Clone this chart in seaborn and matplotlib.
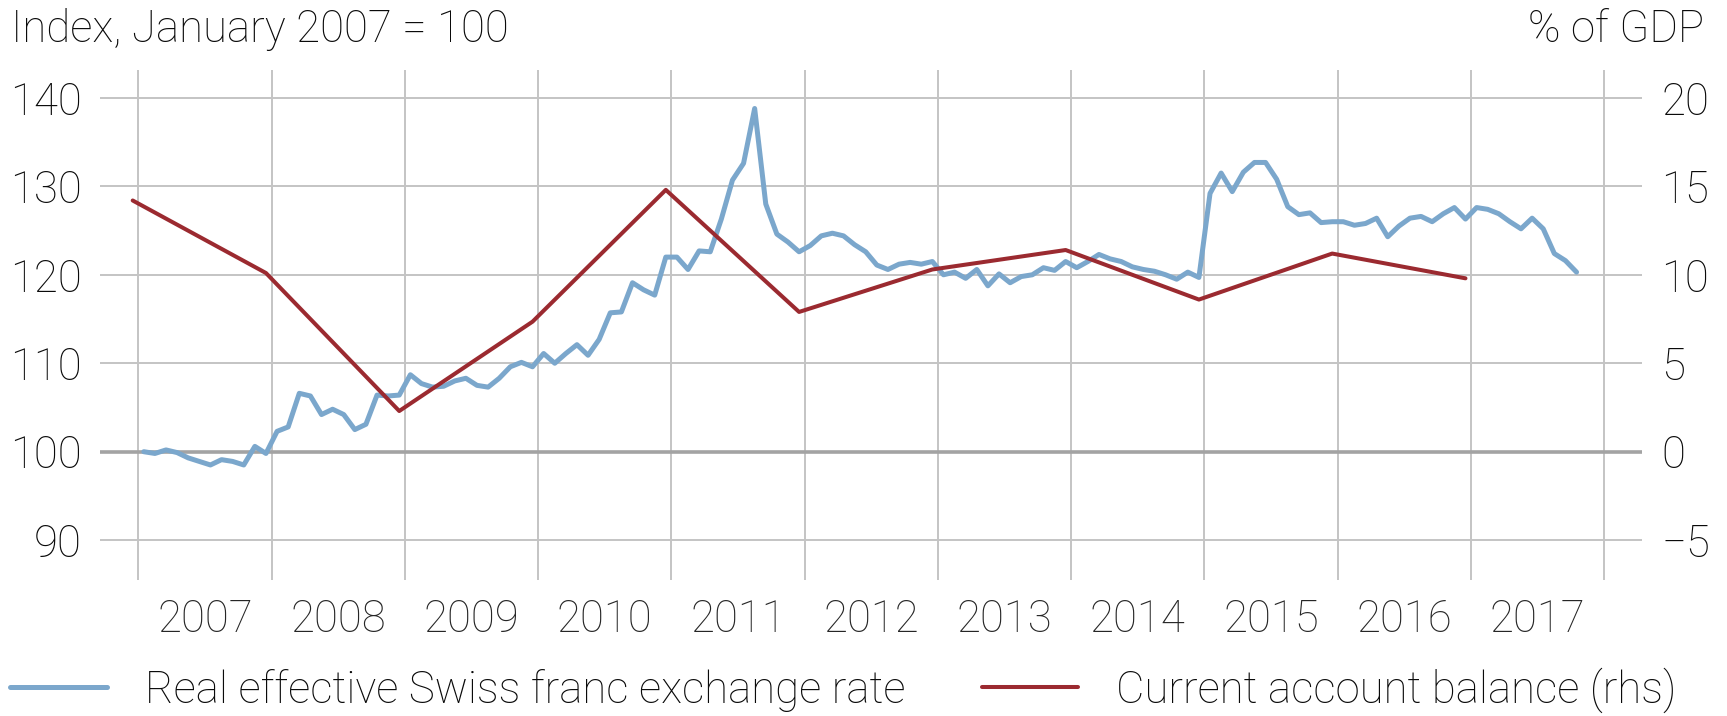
import numpy as np
import pandas as pd
import seaborn as sns
import matplotlib.pyplot as plt
from matplotlib.ticker import FixedLocator, NullFormatter

# real effective franc index, monthly, Jan 2007 = 100
reer_2007 = [100.0, 99.8, 100.2, 99.9, 99.3, 98.9, 98.5, 99.1, 98.9, 98.5, 100.6, 99.8]
reer_2008 = [102.3, 102.8, 106.6, 106.3, 104.2, 104.8, 104.2, 102.5, 103.1, 106.4, 106.3, 106.4]
reer_2009 = [108.7, 107.7, 107.3, 107.4, 108.0, 108.3, 107.5, 107.3, 108.3, 109.6, 110.1, 109.6]
reer_2010 = [111.1, 110.0, 111.1, 112.1, 110.9, 112.7, 115.7, 115.8, 119.1, 118.3, 117.7, 122.0]
reer_2011 = [122.0, 120.6, 122.7, 122.6, 126.3, 130.7, 132.6, 138.8, 128.0, 124.6, 123.7, 122.6]
reer_2012 = [123.3, 124.4, 124.7, 124.4, 123.4, 122.6, 121.1, 120.6, 121.2, 121.4, 121.2, 121.5]
reer_2013 = [120.0, 120.3, 119.6, 120.6, 118.75, 120.1, 119.1, 119.8, 120.0, 120.8, 120.5, 121.5]
reer_2014 = [120.8, 121.5, 122.3, 121.8, 121.5, 120.9, 120.6, 120.4, 120.0, 119.5, 120.3, 119.7]
reer_2015 = [129.2, 131.5, 129.4, 131.6, 132.7, 132.7, 130.8, 127.7, 126.8, 127.0, 125.9, 126.0]
reer_2016 = [126.0, 125.6, 125.8, 126.4, 124.3, 125.5, 126.4, 126.6, 126.0, 126.9, 127.6, 126.3]
reer_2017 = [127.6, 127.4, 126.9, 126.0, 125.2, 126.4, 125.2, 122.4, 121.6, 120.3]

# current account balance, % of GDP, year-end
ca_years = [2006, 2007, 2008, 2009, 2010, 2011, 2012, 2013, 2014, 2015, 2016]
ca_values = [14.2, 10.1, 2.3, 7.35, 14.8, 7.9, 10.3, 11.4, 8.6, 11.2, 9.8]

year_labels = ['2007', '2008', '2009', '2010', '2011', '2012',
               '2013', '2014', '2015', '2016', '2017']

blue = '#7ba7cc'
red = '#9b2a30'
ink = '#0a0a0a'

reer = (reer_2007 + reer_2008 + reer_2009 + reer_2010 + reer_2011 + reer_2012
        + reer_2013 + reer_2014 + reer_2015 + reer_2016 + reer_2017)
df_reer = pd.DataFrame({'t': 2007 + (np.arange(len(reer)) + 0.5) / 12,
                        'v': reer})
df_ca = pd.DataFrame({'t': np.array(ca_years) + 11.5 / 12, 'v': ca_values})

sns.set_style('white')
plt.rcParams['font.family'] = ['Roboto', 'DejaVu Sans']
plt.rcParams['font.weight'] = 'light'
plt.rcParams['text.color'] = ink
fs = 31.5

fig = plt.figure(figsize=(17.27, 7.16), dpi=100)
ax = fig.add_axes([0.0579, 0.1900, 0.8929, 0.7116])
ax2 = ax.twinx()

ylo, yhi = 85.5, 143.1
ax.set_ylim(ylo, yhi)
ax2.set_ylim((ylo - 100) / 2, (yhi - 100) / 2)
ax.set_xlim(2006.713, 2018.283)

# grid
for y in [90, 110, 120, 130, 140]:
    ax.axhline(y, color='#c4c4c4', lw=1.4, zorder=0)
ax.axhline(100, color='#a3a3a3', lw=2.6, zorder=0.5)
for yr in range(2007, 2019):
    ax.axvline(yr, color='#c4c4c4', lw=1.4, zorder=0)

sns.lineplot(data=df_reer, x='t', y='v', ax=ax, color=blue, lw=3.6,
             label='Real effective Swiss franc exchange rate', legend=False)
sns.lineplot(data=df_ca, x='t', y='v', ax=ax2, color=red, lw=2.9,
             label='Current account balance (rhs)', legend=False)

for a in (ax, ax2):
    for s in a.spines.values():
        s.set_visible(False)
    a.set_xlabel('')
    a.set_ylabel('')
    a.tick_params(length=0, labelsize=fs, labelcolor=ink)

ax.set_yticks([90, 100, 110, 120, 130, 140])
ax.tick_params(axis='y', pad=13)
ax2.set_yticks([-5, 0, 5, 10, 15, 20])
ax2.set_yticklabels(['\u22125', '0', '5', '10', '15', '20'])
ax2.tick_params(axis='y', pad=14)

ax.xaxis.set_major_locator(FixedLocator(range(2007, 2019)))
ax.xaxis.set_major_formatter(NullFormatter())
ax.xaxis.set_minor_locator(FixedLocator([y + 0.5 for y in range(2007, 2018)]))
ax.set_xticklabels(year_labels, minor=True)
ax.tick_params(axis='x', which='both', length=0, pad=13, labelsize=fs)

fig.text(11 / 1727, 1 - 42 / 716, 'Index, January 2007 = 100', fontsize=fs,
         ha='left', va='baseline')
fig.text(1704 / 1727, 1 - 42 / 716, '% of GDP', fontsize=fs,
         ha='right', va='baseline')

h1, l1 = ax.get_legend_handles_labels()
h2, l2 = ax2.get_legend_handles_labels()
fig.legend(h1 + h2, l1 + l2, loc='center left', bbox_to_anchor=(0.006, 0.036),
           ncol=2, frameon=False, fontsize=fs, handlelength=2.2,
           handletextpad=0.88, columnspacing=1.74, borderpad=0, borderaxespad=0)

fig.savefig('out.png', dpi=100)
